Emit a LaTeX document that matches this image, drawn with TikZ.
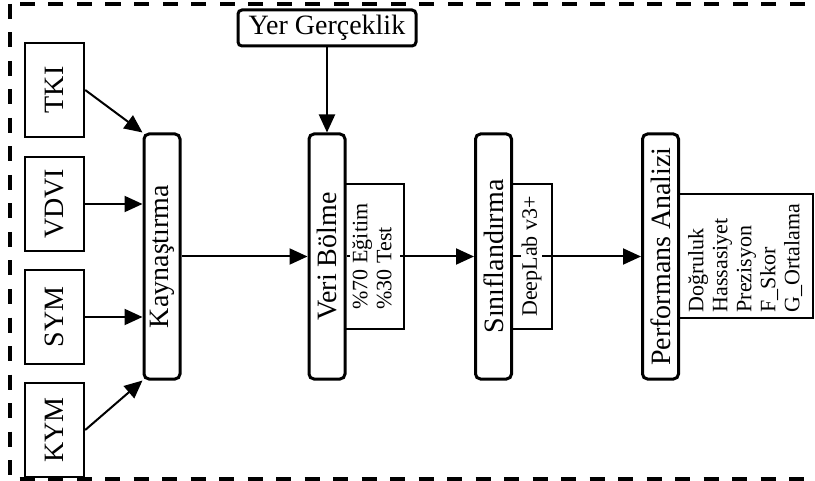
\documentclass[tikz,border=0pt]{standalone}
\usepackage{fontspec}
\setmainfont{Liberation Serif}
\usepackage{graphicx}
\usetikzlibrary{arrows.meta}

\begin{document}
\begin{tikzpicture}[x=0.5pt, y=-0.5pt,
  inbox/.style={draw, line width=1.2pt, minimum width=29.5pt, minimum height=47pt, inner sep=0pt, font=\fontsize{14}{16}\selectfont},
  stage/.style={draw, line width=1.5pt, rounded corners=2.5pt, minimum width=18pt, minimum height=122.5pt, inner sep=0pt, font=\fontsize{14}{16}\selectfont},
  sidebox/.style={draw, line width=1.2pt, inner sep=0pt},
  sidetext/.style={fill=white, inner sep=0.5pt, font=\fontsize{11}{12}\selectfont},
  arr/.style={line width=1pt, -{Triangle[length=9pt,width=8pt]}},
  frame/.style={line width=1.7pt, dash pattern=on 7.5pt off 6.75pt}]
\useasboundingbox (0,0) rectangle (815,481);
\draw[frame] (10,4) rectangle (830,479);
\node[inbox] (tki) at (54.5,90) {\rotatebox{90}{TKI}};
\node[inbox] (vdvi) at (54.5,204) {\rotatebox{90}{VDVI}};
\node[inbox] (sym) at (54.5,317) {\rotatebox{90}{SYM}};
\node[inbox] (kym) at (54.5,430) {\rotatebox{90}{KYM}};
\node[stage] (kayn) at (162,256.5) {\rotatebox{90}{Kaynaştırma}};
\node[stage] (veri) at (327,256.5) {\rotatebox{90}{Veri Bölme}};
\node[stage] (sinif) at (493.5,256.5) {\rotatebox{90}{Sınıflandırma}};
\node[stage] (perf) at (660.5,256.5) {\rotatebox{90}{Performans Analizi}};
\node[draw, line width=1.5pt, rounded corners=2pt, minimum width=89pt, minimum height=18pt, inner sep=0pt, font=\fontsize{14}{16}\selectfont] (yer) at (327,28) {Yer Gerçeklik};
\draw[arr] (tki.east) -- (kayn.north west);
\draw[arr] (vdvi.east) -- (vdvi.east -| kayn.west);
\draw[arr] (sym.east) -- (sym.east -| kayn.west);
\draw[arr] (kym.east) -- (kayn.south west);
\draw[arr] (kayn) -- (veri);
\draw[arr] (yer) -- (veri);
\draw[arr] (veri) -- (sinif);
\draw[arr] (sinif) -- (perf);
\node[sidetext] (oran) at (374.5,256.5) {\rotatebox{90}{\begin{tabular}{@{}l@{}}\%70 Eğitim\\ \%30 Test\end{tabular}}};
\node[sidetext] (model) at (531.5,256.5) {\rotatebox{90}{DeepLab v3+}};
\node[sidetext] (olcut) at (746.5,258) {\rotatebox{90}{\begin{tabular}{@{}l@{}}Doğruluk\\ Hassasiyet\\ Prezisyon\\ F\_Skor\\ G\_Ortalama\end{tabular}}};
\node[sidebox, minimum width=29.5pt, minimum height=72.5pt] (oranbox) at (374.5,256.5) {};
\node[sidebox, minimum width=20.5pt, minimum height=72.5pt] (modelbox) at (531.5,256.5) {};
\node[sidebox, minimum width=67.5pt, minimum height=62pt] (olcutbox) at (745.5,256) {};
\end{tikzpicture}
\end{document}
